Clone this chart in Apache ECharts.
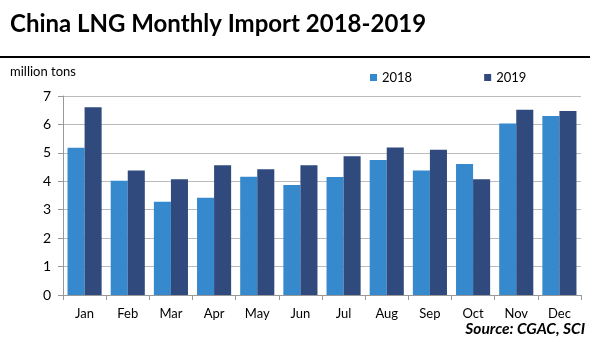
<!DOCTYPE html>
<html><head><meta charset="utf-8">
<script src="https://cdn.jsdelivr.net/npm/echarts@6/dist/echarts.min.js"></script>
<style>html,body{margin:0;padding:0;background:#fff}#c{width:594px;height:347px}</style>
</head><body><div id="c"></div>
<script>
const months = ['Jan','Feb','Mar','Apr','May','Jun','Jul','Aug','Sep','Oct','Nov','Dec'];
const s2018 = [5.18, 4.02, 3.28, 3.42, 4.16, 3.87, 4.15, 4.75, 4.38, 4.61, 6.03, 6.30];
const s2019 = [6.60, 4.38, 4.07, 4.56, 4.42, 4.56, 4.88, 5.19, 5.11, 4.07, 6.52, 6.47];
const yTicks = [0,1,2,3,4,5,6,7];
const FONT = 'Lato';
const chart = echarts.init(document.getElementById('c'));
chart.setOption({
  animation: false,
  textStyle: {fontFamily: FONT},
  graphic: [
    {type:'text', left:10, top:12, style:{text:'China LNG Monthly Import 2018-2019', font:'bold 24px Lato', fill:'#000'}},
    {type:'rect', shape:{x:0, y:56, width:590, height:2}, style:{fill:'#000'}},
    {type:'text', left:10, top:65, style:{text:'million tons', font:'13px Lato', fill:'#000'}},
    {type:'text', right:9, top:321, style:{text:'Source: CGAC, SCI', font:'italic bold 15.5px Lato', fill:'#000'}}
  ],
  legend: {
    data:['2018','2019'], top:66, left:365, itemWidth:7, itemHeight:7, itemGap:72,
    icon:'rect', textStyle:{fontSize:13, color:'#000', fontFamily:FONT}
  },
  grid: {left:63, right:13, top:96, bottom:52},
  xAxis: {
    type:'category', data:months,
    axisLine:{lineStyle:{color:'#999'}},
    axisTick:{show:true, lineStyle:{color:'#999'}, length:5},
    axisLabel:{color:'#000', fontSize:13, margin:12}
  },
  yAxis: {
    type:'value', min:0, max:7, interval:1,
    axisLine:{show:true, lineStyle:{color:'#999'}},
    axisTick:{show:true, lineStyle:{color:'#999'}, length:5},
    axisLabel:{color:'#000', fontSize:14, margin:12, formatter: v => yTicks.includes(v) ? String(v) : ''},
    splitLine:{lineStyle:{color:'#bbb'}}
  },
  series: [
    {name:'2018', type:'bar', data:s2018, itemStyle:{color:'#3689cd'}, barGap:'0%', barCategoryGap:'21%'},
    {name:'2019', type:'bar', data:s2019, itemStyle:{color:'#304a7e'}, barGap:'0%', barCategoryGap:'21%'}
  ]
});
</script></body></html>
